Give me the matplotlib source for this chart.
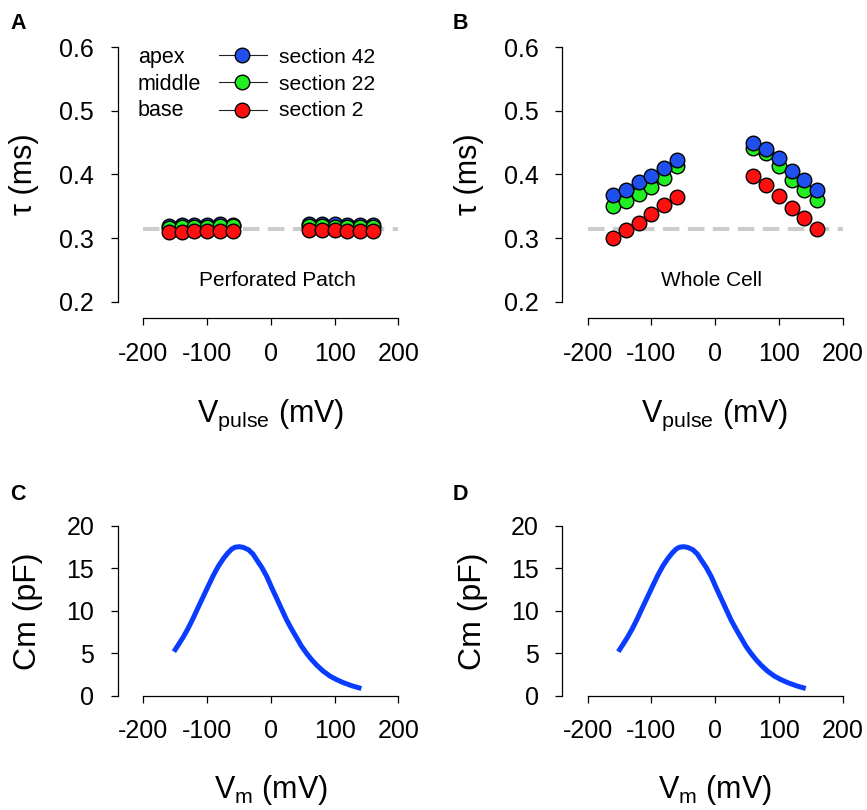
import matplotlib
matplotlib.use('Agg')
import matplotlib.pyplot as plt
from matplotlib.lines import Line2D

plt.rcParams['font.family'] = ['Liberation Sans', 'DejaVu Sans']
plt.rcParams['mathtext.fontset'] = 'custom'
plt.rcParams['mathtext.rm'] = 'Liberation Sans'
plt.rcParams['mathtext.it'] = 'Liberation Sans:italic'

# pulse voltages (mV), negative and positive groups
v_neg = [-160, -140, -120, -100, -80, -60]
v_pos = [60, 80, 100, 120, 140, 160]

# tau (ms), perforated patch
pp_apex_neg = [0.319, 0.320, 0.321, 0.321, 0.322, 0.321]
pp_middle_neg = [0.316, 0.317, 0.318, 0.318, 0.319, 0.319]
pp_base_neg = [0.309, 0.310, 0.311, 0.311, 0.312, 0.312]
pp_apex_pos = [0.322, 0.322, 0.322, 0.321, 0.321, 0.320]
pp_middle_pos = [0.319, 0.319, 0.318, 0.318, 0.317, 0.317]
pp_base_pos = [0.313, 0.313, 0.313, 0.312, 0.312, 0.311]

# tau (ms), whole cell
wc_apex_neg = [0.368, 0.376, 0.388, 0.397, 0.410, 0.422]
wc_middle_neg = [0.350, 0.359, 0.369, 0.381, 0.395, 0.413]
wc_base_neg = [0.301, 0.313, 0.324, 0.338, 0.352, 0.365]
wc_apex_pos = [0.449, 0.440, 0.426, 0.406, 0.392, 0.375]
wc_middle_pos = [0.442, 0.433, 0.413, 0.392, 0.375, 0.360]
wc_base_pos = [0.397, 0.383, 0.367, 0.347, 0.332, 0.315]

tau_ref = 0.315

# nonlinear capacitance vs membrane voltage
vm = [-152, -145, -137, -130, -122, -114, -106, -98, -90, -82, -74, -67, -61,
      -56, -49, -43, -35, -28, -22, -14, -6, 1, 9, 17, 25, 33, 41, 48, 56, 64,
      72, 82, 93, 103, 114, 128, 142]
cm = [5.19, 6.0, 6.96, 7.9, 9.1, 10.4, 11.67, 12.95, 14.2, 15.3, 16.2, 16.85, 17.3,
      17.5, 17.56, 17.47, 17.2, 16.7, 16.0, 15.1, 14.0, 12.8, 11.5, 10.2, 8.9, 7.8,
      6.76, 5.85, 5.0, 4.25, 3.6, 2.9, 2.3, 1.9, 1.53, 1.15, 0.85]

sections = ['apex', 'middle', 'base']
section_labels = ['section 42', 'section 22', 'section 2']
colors = {'apex': '#1f50ee', 'middle': '#22ee22', 'base': '#ff1010'}

x_ticks = [-200, -100, 0, 100, 200]
tau_ticks = [0.2, 0.3, 0.4, 0.5, 0.6]
cm_ticks = [0, 5, 10, 15, 20]

W, H = 867, 810


def box(left, top, right, bottom):
    return [left / W, 1 - bottom / H, (right - left) / W, (bottom - top) / H]


def fx(x):
    return x / W


def fy(y):
    return 1 - y / H


def style(ax, yticks, ylabels):
    for s in ['top', 'right']:
        ax.spines[s].set_visible(False)
    for s in ['left', 'bottom']:
        ax.spines[s].set_linewidth(0.9)
    ax.spines['left'].set_bounds(yticks[0], yticks[-1])
    ax.spines['bottom'].set_bounds(x_ticks[0], x_ticks[-1])
    ax.set_xticks(x_ticks)
    ax.set_xticklabels([str(t) for t in x_ticks])
    ax.set_yticks(yticks)
    ax.set_yticklabels(ylabels)
    ax.tick_params(direction='out', length=5, width=0.9, pad=12, labelsize=18)
    ax.set_xlim(-240, 218)


fig = plt.figure(figsize=(8.67, 8.10), dpi=100)

axA = fig.add_axes(box(117.8, 40.0, 409.8, 317.9))
axB = fig.add_axes(box(562.2, 40.0, 854.2, 317.9))
axC = fig.add_axes(box(117.8, 519.2, 409.8, 695.7))
axD = fig.add_axes(box(562.2, 519.2, 854.2, 695.7))

tau_labels = ['%.1f' % t for t in tau_ticks]
cm_labels = [str(t) for t in cm_ticks]

pp = {'apex': (pp_apex_neg, pp_apex_pos), 'middle': (pp_middle_neg, pp_middle_pos),
      'base': (pp_base_neg, pp_base_pos)}
wc = {'apex': (wc_apex_neg, wc_apex_pos), 'middle': (wc_middle_neg, wc_middle_pos),
      'base': (wc_base_neg, wc_base_pos)}

# A: red drawn last, B: blue drawn last
for ax, data, order in [(axA, pp, ['apex', 'middle', 'base']),
                        (axB, wc, ['base', 'middle', 'apex'])]:
    ax.hlines(tau_ref, x_ticks[0], x_ticks[-1], color='#cccccc', lw=2.9,
              linestyle=(0, (4.1, 2.1)), zorder=1)
    for k, name in enumerate(order):
        neg, pos = data[name]
        ax.plot(v_neg + v_pos, neg + pos, 'o', ms=10.5, mfc=colors[name],
                mec='black', mew=1.0, zorder=3 + k)
    ax.set_ylim(0.175, 0.611)
    style(ax, tau_ticks, tau_labels)

axA.text(11, 0.233, 'Perforated Patch', ha='center', va='center', fontsize=15)
axB.text(-6, 0.233, 'Whole Cell', ha='center', va='center', fontsize=15)

for ax in [axC, axD]:
    ax.plot(vm, cm, color='#0a3cff', lw=3.6, solid_capstyle='butt',
            solid_joinstyle='round')
    ax.set_ylim(0, 20.8)
    style(ax, cm_ticks, cm_labels)

# legend in panel A
row_marker_y = [55, 82.3, 110]
row_text_y = [63.3, 89.5, 115.5]
for name, lab, my, ty in zip(sections, section_labels, row_marker_y, row_text_y):
    fig.text(fx(137.7), fy(ty), name, fontsize=15.5, va='baseline', ha='left')
    fig.text(fx(279.3), fy(ty), lab, fontsize=15.2, va='baseline', ha='left')
    fig.add_artist(Line2D([fx(219.3), fx(241.7), fx(266.7)], [fy(my)] * 3,
                          transform=fig.transFigure, color='#222222', lw=0.8,
                          marker='o', markevery=[1], ms=10.5,
                          mfc=colors[name], mec='black', mew=1.0))

# axis labels
for x, y in [(24, 174.6), (469, 174.6)]:
    fig.text(fx(x), fy(y), '\u03c4 (ms)', rotation=90,
             ha='center', va='center', fontsize=22)
for x, y in [(28, 611), (472.5, 611)]:
    fig.text(fx(x), fy(y), 'Cm (pF)', rotation=90, ha='center', va='center', fontsize=23)
for x in [271, 715]:
    fig.text(fx(x), fy(421.7), r'V$_{\mathrm{pulse}}$ (mV)', ha='center',
             va='baseline', fontsize=22)
    fig.text(fx(x), fy(798.3), r'V$_{\mathrm{m}}$ (mV)', ha='center',
             va='baseline', fontsize=22)

# panel letters
for letter, x, y in [('A', 10, 29), ('B', 452.7, 29), ('C', 10, 500), ('D', 452.7, 500)]:
    fig.text(fx(x), fy(y), letter, fontsize=15.5, fontweight='bold', va='baseline')

plt.savefig('out.png', dpi=100)
